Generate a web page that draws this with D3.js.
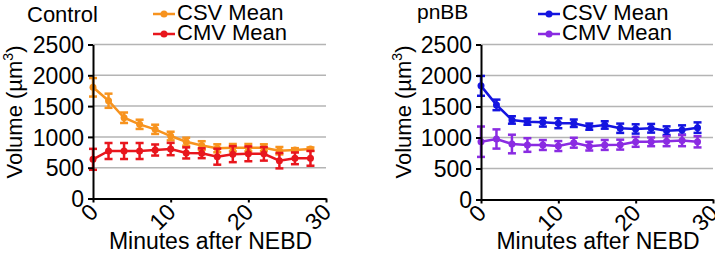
<!DOCTYPE html>
<html>
<head>
<meta charset="utf-8">
<script src="https://cdn.jsdelivr.net/npm/d3@7"></script>
<style>
  body { margin: 0; background: #fff; }
  svg { font-family: "Liberation Sans", Arial, sans-serif; }
  .grid line { stroke: #b4b4b4; stroke-width: 1.5; }
  .axis path, .axis line { stroke: #000; stroke-width: 2; }
  .axis text { font-size: 23px; fill: #000; }
</style>
</head>
<body>
<div id="wrapper"></div>
<script>
// data
const minutes = [0, 2, 4, 6, 8, 10, 12, 14, 16, 18, 20, 22, 24, 26, 28]
const xTicks = [0, 10, 20, 30]
const yTicks = [0, 500, 1000, 1500, 2000, 2500]

const controlCsvMean = [1805, 1587, 1311, 1204, 1123, 1014, 922, 860, 815, 825, 825, 825, 776, 787, 803]
const controlCsvErr  = [150, 115, 85, 75, 75, 70, 65, 70, 65, 60, 60, 55, 60, 30, 25]
const controlCmvMean = [636, 771, 771, 771, 787, 803, 740, 735, 679, 720, 725, 725, 614, 652, 652]
const controlCmvErr  = [170, 130, 130, 130, 90, 100, 90, 80, 130, 130, 120, 110, 125, 95, 120]

const pnbbCsvMean = [1833, 1526, 1283, 1256, 1246, 1230, 1230, 1175, 1202, 1149, 1138, 1149, 1110, 1121, 1159]
const pnbbCsvErr  = [160, 85, 60, 50, 70, 80, 60, 50, 60, 75, 75, 70, 70, 75, 85]
const pnbbCmvMean = [932, 976, 895, 879, 879, 862, 916, 860, 880, 885, 930, 930, 940, 950, 930]
const pnbbCmvErr  = [245, 155, 150, 110, 80, 80, 80, 70, 80, 80, 80, 70, 80, 90, 90]

const seriesNames = ["CSV Mean", "CMV Mean"]

const wrapper = d3.select("#wrapper")
  .append("svg")
    .attr("width", 715)
    .attr("height", 257)

function drawPanel(p) {
  const xScale = d3.scaleLinear()
    .domain([0, 30])
    .range([p.left, p.right])

  const yScale = d3.scaleLinear()
    .domain([0, 2500])
    .range([p.bottom, p.top])

  const g = wrapper.append("g")

  // grid
  g.append("g")
      .attr("class", "grid")
    .selectAll("line")
    .data(yTicks.slice(1))
    .join("line")
      .attr("x1", xScale(0))
      .attr("x2", xScale(30))
      .attr("y1", d => yScale(d))
      .attr("y2", d => yScale(d))

  // series
  p.series.forEach(s => {
    const pts = minutes.map((m, i) => ({ x: m, y: s.mean[i], e: s.err[i] }))
    const sg = g.append("g")
    const bars = sg.selectAll("g.err").data(pts).join("g").attr("class", "err")
    bars.append("line")
        .attr("x1", d => xScale(d.x)).attr("x2", d => xScale(d.x))
        .attr("y1", d => yScale(d.y - d.e)).attr("y2", d => yScale(d.y + d.e))
        .attr("stroke", s.color).attr("stroke-width", 2.5)
    ;[-1, 1].forEach(sign => {
      bars.append("line")
          .attr("x1", d => xScale(d.x) - 4).attr("x2", d => xScale(d.x) + 4)
          .attr("y1", d => yScale(d.y + sign * d.e)).attr("y2", d => yScale(d.y + sign * d.e))
          .attr("stroke", s.color).attr("stroke-width", 2.5)
    })
    sg.append("path")
        .attr("fill", "none")
        .attr("stroke", s.color)
        .attr("stroke-width", 2.5)
        .attr("d", d3.line().x(d => xScale(d.x)).y(d => yScale(d.y))(pts))
    sg.selectAll("circle").data(pts).join("circle")
        .attr("cx", d => xScale(d.x))
        .attr("cy", d => yScale(d.y))
        .attr("r", 3.5)
        .attr("fill", s.color)
  })

  // axes
  const yAxis = g.append("g")
      .attr("class", "axis")
      .attr("transform", `translate(${p.left},0)`)
    .call(d3.axisLeft(yScale).tickValues(yTicks).tickFormat(d3.format("d"))
      .tickSize(5).tickPadding(4).tickSizeOuter(0))
  yAxis.selectAll("text").attr("dy", "0.36em")

  const xAxis = g.append("g")
      .attr("class", "axis")
      .attr("transform", `translate(0,${p.bottom})`)
    .call(d3.axisBottom(xScale).tickValues(xTicks).tickSize(4).tickSizeOuter(0))
  xAxis.selectAll("text")
      .attr("x", 0).attr("y", 0).attr("dy", 0)
      .attr("transform", "translate(6,15) rotate(-45)")
      .style("text-anchor", "end")

  // labels
  g.append("text")
      .attr("transform", `translate(${p.yLabelX},${p.yLabelY}) rotate(-90)`)
      .attr("text-anchor", "middle")
      .style("font-size", "22px")
    .call(t => {
      t.append("tspan").text("Volume (µm")
      t.append("tspan").text("3").style("font-size", "14px").attr("dy", -9)
      t.append("tspan").text(")").attr("dy", 9)
    })

  g.append("text")
      .attr("x", (xScale(0) + xScale(30)) / 2 + 1)
      .attr("y", 249)
      .attr("text-anchor", "middle")
      .style("font-size", "23px")
      .text("Minutes after NEBD")

  g.append("text")
      .attr("x", p.titleX)
      .attr("y", p.titleY)
      .style("font-size", p.titleSize)
      .text(p.title)

  // legend
  p.series.forEach((s, i) => {
    const ly = 14 + i * 20
    g.append("line")
        .attr("x1", p.legendX).attr("x2", p.legendX + 22)
        .attr("y1", ly).attr("y2", ly)
        .attr("stroke", s.color).attr("stroke-width", 2.5)
    g.append("circle")
        .attr("cx", p.legendX + 11).attr("cy", ly).attr("r", 3.5)
        .attr("fill", s.color)
    g.append("text")
        .attr("x", p.legendX + 24)
        .attr("y", ly + 6)
        .style("font-size", "22px")
        .text(seriesNames[i])
  })
}

drawPanel({
  left: 93, right: 326, top: 44.5, bottom: 198.5,
  title: "Control", titleX: 27, titleY: 22, titleSize: "22px",
  yLabelX: 22, yLabelY: 112,
  legendX: 153,
  series: [
    { mean: controlCsvMean, err: controlCsvErr, color: "#f7931e" },
    { mean: controlCmvMean, err: controlCmvErr, color: "#e8161d" },
  ],
})

drawPanel({
  left: 481, right: 713, top: 44.5, bottom: 199.5,
  title: "pnBB", titleX: 417, titleY: 19, titleSize: "21px",
  yLabelX: 411, yLabelY: 112,
  legendX: 538,
  series: [
    { mean: pnbbCsvMean, err: pnbbCsvErr, color: "#1414e0" },
    { mean: pnbbCmvMean, err: pnbbCmvErr, color: "#8a2be2" },
  ],
})
</script>
</body>
</html>
